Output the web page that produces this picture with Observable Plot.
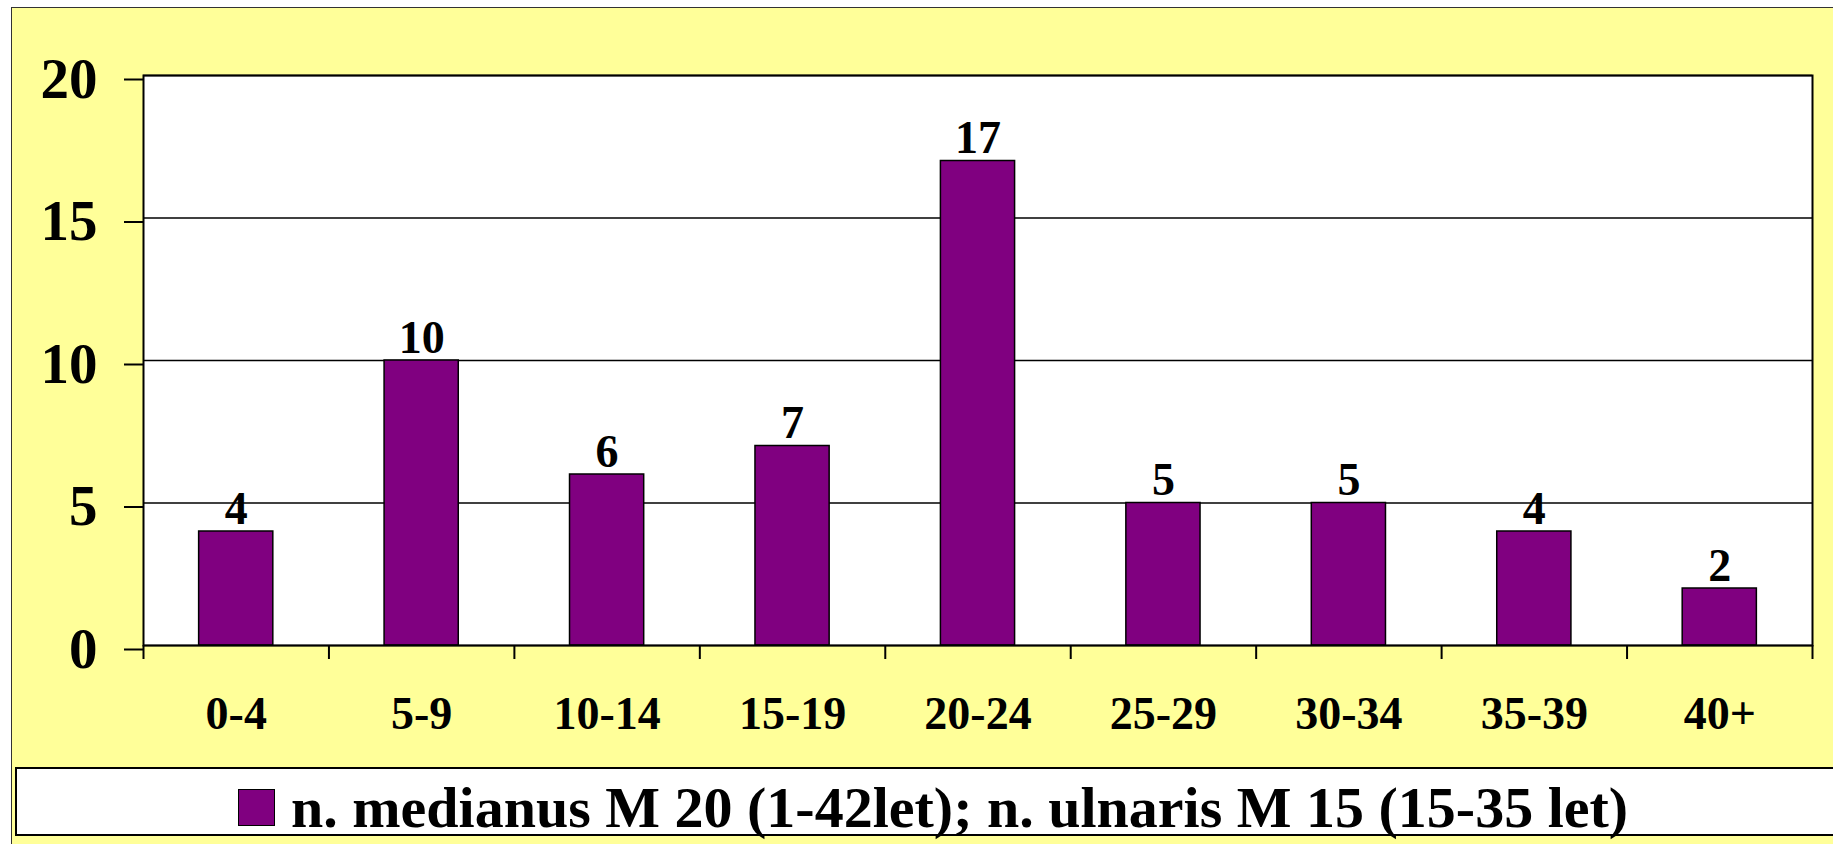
<!DOCTYPE html>
<html>
<head>
<meta charset="utf-8">
<script src="https://cdn.jsdelivr.net/npm/d3@7"></script>
<script src="https://cdn.jsdelivr.net/npm/@observablehq/plot@0.6"></script>
<style>
  body { margin: 0; background: #ffffff; }
  #page { position: relative; width: 1833px; height: 844px; overflow: hidden; }
  #bg { position: absolute; left: 11px; top: 7px; width: 1850px; height: 870px; background: #FFFF99; border: 1.5px solid #333; }
  #chart { position: absolute; left: 0; top: 0; }
  #legend { position: absolute; left: 15px; top: 767px; width: 1850px; height: 65px; background: #ffffff; border: 2px solid #000; font-family: "Liberation Serif", "Times New Roman", serif; font-weight: bold; }
  #swatch { position: absolute; left: 221px; top: 20px; width: 37px; height: 37px; box-sizing: border-box; background: #800080; border: 1.5px solid #000; }
  #legendText { position: absolute; left: 274px; top: 10px; font-size: 58px; line-height: 58px; white-space: nowrap; color: #000; }
</style>
</head>
<body>
<div id="page">
  <div id="bg"></div>
  <div id="chart"></div>
  <div id="legend"><div id="swatch"></div><div id="legendText"></div></div>
</div>
<script>
const categories = ["0-4", "5-9", "10-14", "15-19", "20-24", "25-29", "30-34", "35-39", "40+"];
const values = [4, 10, 6, 7, 17, 5, 5, 4, 2];
const yTicks = [0, 5, 10, 15, 20];
const seriesName = "n. medianus M 20 (1-42let); n. ulnaris M 15 (15-35 let)";

const data = categories.map((c, i) => ({i, category: c, value: values[i]}));

const chart = Plot.plot({
  width: 1833,
  height: 760,
  marginLeft: 143,
  marginRight: 21,
  marginTop: 75,
  marginBottom: 115,
  x: {domain: [0, categories.length], axis: null, label: null},
  y: {domain: [0, 20], axis: null, label: null},
  style: {background: "transparent", fontFamily: "Liberation Serif, Times New Roman, serif", overflow: "visible", color: "#000"},
  marks: [
    Plot.frame({fill: "white"}),
    Plot.gridY(yTicks, {stroke: "#000", strokeOpacity: 1, strokeWidth: 1.3}),
    Plot.rectY(data, {x1: d => d.i + 0.3, x2: d => d.i + 0.7, y: "value", fill: "#800080", stroke: "#000", strokeWidth: 1.5}),
    Plot.frame({stroke: "#000", strokeWidth: 2}),
    Plot.axisY({ticks: yTicks, label: null, tickSize: 19, tickPadding: 27, fontSize: 57, fontWeight: "bold", color: "#000", strokeWidth: 2, dy: 4, tickFormat: d => String(d)}),
    Plot.axisX({ticks: d3.range(categories.length + 1), label: null, tickSize: 14, tickFormat: () => "", color: "#000", strokeWidth: 2}),
    Plot.axisX({ticks: d3.range(categories.length).map(i => i + 0.5), label: null, tickSize: 0, tickPadding: 51, tickFormat: v => categories[Math.floor(v)], fontSize: 46, fontWeight: "bold", color: "#000"}),
    Plot.text(data, {x: d => d.i + 0.5, y: "value", text: d => String(d.value), lineAnchor: "bottom", dy: -8, fontSize: 46, fontWeight: "bold", fill: "#000"})
  ]
});
document.getElementById("chart").appendChild(chart);
document.getElementById("legendText").textContent = seriesName;
</script>
</body>
</html>
